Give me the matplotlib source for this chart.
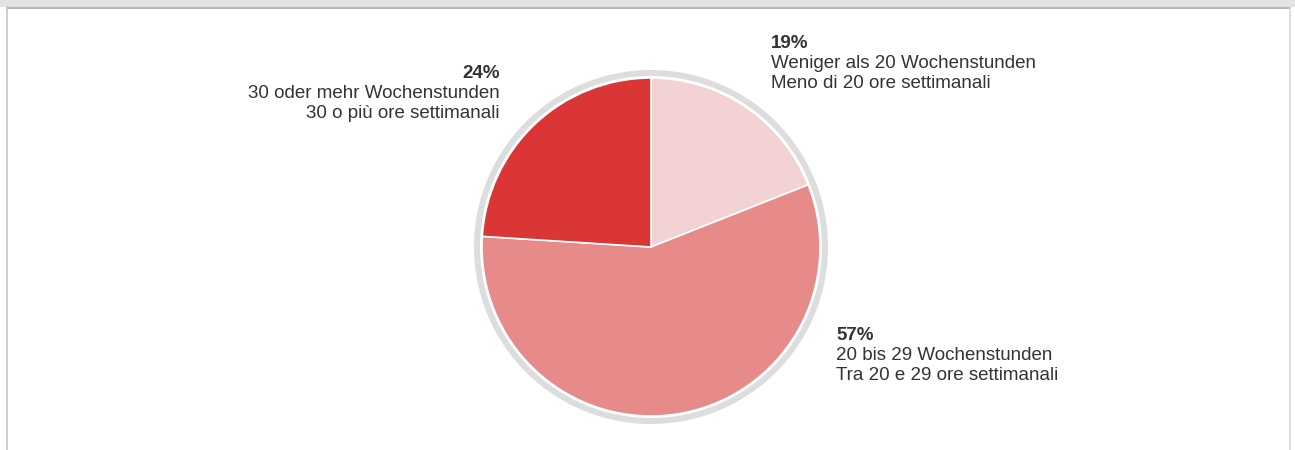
import matplotlib.pyplot as plt
from matplotlib.patches import Rectangle, Circle

plt.rcParams['font.family'] = ['Liberation Sans', 'DejaVu Sans']

# shares in percent, clockwise from 12 o'clock
shares = [19, 57, 24]
labels_de = ['Weniger als 20 Wochenstunden', '20 bis 29 Wochenstunden', '30 oder mehr Wochenstunden']
labels_it = ['Meno di 20 ore settimanali', 'Tra 20 e 29 ore settimanali', '30 o più ore settimanali']
colors = ['#f2d2d3', '#e68a8a', '#da3636']

fig = plt.figure(figsize=(12.95, 4.5), dpi=100)
ax = fig.add_axes([0, 0, 1, 1])

# page frame
ax.add_patch(Rectangle((0, 0), 1295, 7, color='#e4e4e4', lw=0))
ax.plot([7, 1290], [7.5, 7.5], color='#b8b8b8', lw=1.5)
ax.plot([7, 7], [7, 450], color='#c8c8c8', lw=1.2)
ax.plot([1290, 1290], [7, 450], color='#d8d8d8', lw=1.2)

cx, cy = 651, 247
ax.add_patch(Circle((cx, cy), 177, color='#dddddd', lw=0, zorder=1))
ax.add_patch(Circle((cx, cy), 171, color='white', lw=0, zorder=1))

wedges, _ = ax.pie(shares, colors=colors, startangle=90, counterclock=False,
                   center=(cx, cy), radius=169, frame=True,
                   wedgeprops=dict(edgecolor='white', linewidth=1.2))
# y axis is inverted, so mirror the wedge angles
for w in wedges:
    w.set_zorder(2)
    t1, t2 = w.theta1, w.theta2
    w.set_theta1(-t2)
    w.set_theta2(-t1)
ax.set_xlim(0, 1295)
ax.set_ylim(450, 0)
ax.set_aspect('auto')
ax.axis('off')

txt = '#333333'
fs = 13.5
pos = [(771, 43, 'left'), (836, 335, 'left'), (500, 73, 'right')]
for (x, y, ha), s, de, it in zip(pos, shares, labels_de, labels_it):
    ax.text(x, y, f'{s}%', ha=ha, va='center', fontsize=fs, fontweight='bold', color=txt)
    ax.text(x, y + 20.5, de, ha=ha, va='center', fontsize=fs, color=txt)
    ax.text(x, y + 41, it, ha=ha, va='center', fontsize=fs, color=txt)

fig.savefig('out.png', dpi=100)
